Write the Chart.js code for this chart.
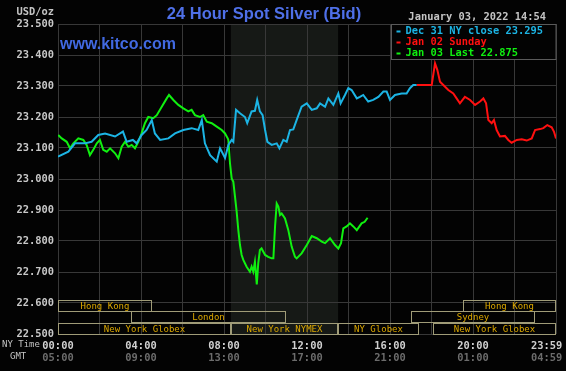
<!DOCTYPE html>
<html>
<head>
  <title>24 Hour Spot Silver</title>
  <script src="https://cdn.jsdelivr.net/npm/chart.js"></script>
  <style>
    body { margin:0; background:#000; }
    canvas { display:block; }
  </style>
</head>
<body>
<canvas id="silverChart" width="566" height="371"></canvas>

<script>
  // NY time in hours since midnight, and bid price in USD/oz
  const dec31Hours = [0.00,0.50,0.82,1.30,1.62,1.94,2.27,2.75,3.13,3.31,3.61,3.79,4.03,4.27,4.52,4.67,4.92,5.32,5.64,6.04,6.44,6.76,6.93,7.08,7.33,7.65,7.81,8.05,8.21,8.37,8.45,8.58,8.77,9.01,9.12,9.33,9.49,9.60,9.73,9.86,9.98,10.09,10.30,10.54,10.67,10.86,11.02,11.18,11.34,11.50,11.74,11.99,12.23,12.47,12.63,12.87,13.03,13.27,13.51,13.62,13.83,13.99,14.15,14.40,14.55,14.71,14.95,15.19,15.44,15.68,15.84,16.00,16.24,16.56,16.80,16.96,17.12,17.28];
  const dec31Prices = [23.072,23.088,23.115,23.115,23.120,23.142,23.147,23.137,23.153,23.120,23.126,23.115,23.142,23.158,23.190,23.147,23.126,23.131,23.147,23.158,23.164,23.158,23.190,23.115,23.077,23.056,23.099,23.068,23.110,23.126,23.120,23.223,23.212,23.200,23.180,23.218,23.220,23.255,23.218,23.206,23.158,23.120,23.110,23.115,23.099,23.126,23.120,23.158,23.160,23.190,23.233,23.244,23.223,23.228,23.244,23.233,23.260,23.239,23.276,23.244,23.271,23.293,23.287,23.260,23.265,23.271,23.250,23.255,23.265,23.282,23.282,23.255,23.271,23.276,23.276,23.293,23.303,23.303];

  const jan02Hours = [17.28,18.01,18.17,18.28,18.41,18.57,18.81,19.05,19.21,19.37,19.61,19.86,20.10,20.34,20.50,20.63,20.74,20.90,21.01,21.14,21.30,21.54,21.70,21.86,22.11,22.35,22.59,22.83,22.99,23.23,23.39,23.58,23.79,23.90,24.00];
  const jan02Prices = [23.303,23.303,23.373,23.352,23.314,23.303,23.287,23.276,23.260,23.244,23.265,23.255,23.239,23.250,23.260,23.244,23.190,23.180,23.190,23.158,23.137,23.139,23.126,23.117,23.126,23.128,23.124,23.131,23.158,23.161,23.164,23.174,23.167,23.153,23.131];

  const jan03Hours = [0.01,0.18,0.42,0.58,0.74,0.98,1.22,1.38,1.54,1.70,1.87,2.02,2.18,2.35,2.51,2.75,2.91,3.07,3.23,3.39,3.55,3.71,3.87,4.03,4.19,4.35,4.59,4.76,5.00,5.24,5.35,5.56,5.80,6.04,6.28,6.44,6.60,6.84,7.00,7.17,7.41,7.65,7.89,8.05,8.18,8.21,8.29,8.37,8.45,8.53,8.61,8.69,8.77,8.85,8.93,9.09,9.25,9.33,9.41,9.49,9.58,9.65,9.73,9.81,9.98,10.13,10.30,10.38,10.46,10.54,10.62,10.70,10.78,10.94,11.10,11.26,11.42,11.50,11.74,11.99,12.23,12.47,12.71,12.87,13.11,13.35,13.51,13.64,13.75,13.91,14.07,14.23,14.40,14.63,14.78,14.92];
  const jan03Prices = [23.142,23.131,23.120,23.099,23.115,23.131,23.126,23.110,23.077,23.094,23.115,23.126,23.094,23.088,23.099,23.083,23.067,23.104,23.120,23.104,23.110,23.099,23.120,23.147,23.180,23.200,23.196,23.206,23.233,23.260,23.271,23.255,23.239,23.228,23.218,23.223,23.206,23.200,23.206,23.185,23.180,23.169,23.158,23.147,23.131,23.126,23.050,23.002,22.991,22.943,22.895,22.835,22.787,22.755,22.739,22.717,22.701,22.717,22.701,22.733,22.660,22.728,22.771,22.776,22.755,22.749,22.744,22.744,22.847,22.921,22.911,22.884,22.889,22.873,22.835,22.782,22.749,22.744,22.760,22.787,22.816,22.809,22.798,22.793,22.809,22.787,22.776,22.793,22.841,22.847,22.857,22.847,22.835,22.857,22.862,22.875];

  const seriesLabels = ['Dec 31 NY close 23.295', 'Jan 02 Sunday', 'Jan 03 Last 22.875'];
  const nyTimeLabels = ['00:00', '04:00', '08:00', '12:00', '16:00', '20:00', '23:59'];
  const gmtLabels = ['05:00', '09:00', '13:00', '17:00', '21:00', '01:00', '04:59'];

  // trading sessions: name, start hour, end hour, row (0 = top)
  const sessionNames = ['Hong Kong', 'Hong Kong', 'London', 'Sydney', 'New York Globex', 'New York NYMEX', 'NY Globex', 'New York Globex'];
  const sessionStart = [0, 19.52, 3.52, 17.0, 0, 8.33, 13.5, 18.05];
  const sessionEnd = [4.53, 24, 11.0, 23.0, 8.33, 13.5, 17.4, 24];
  const sessionRow = [0, 0, 1, 1, 2, 2, 2, 2];
  const nymexOpen = 8.33, nymexClose = 13.5;

  const colors = ['#1cb4e4', '#ff1010', '#10f010'];
  const monoFont = "'DejaVu Sans Mono', monospace";

  function toPoints(hours, prices) {
    return hours.map((h, i) => ({ x: h, y: prices[i] }));
  }

  // background, NYMEX shading and all the extra kitco text
  const kitcoDecor = {
    id: 'kitcoDecor',
    beforeDraw(chart) {
      const ctx = chart.ctx, area = chart.chartArea, xs = chart.scales.x;
      ctx.save();
      ctx.fillStyle = '#030303';
      ctx.fillRect(0, 0, chart.width, chart.height);
      const x0 = xs.getPixelForValue(nymexOpen), x1 = xs.getPixelForValue(nymexClose);
      ctx.fillStyle = '#161916';
      ctx.fillRect(x0, area.top, x1 - x0, area.bottom - area.top);
      ctx.restore();
    },
    beforeDatasetsDraw(chart) {
      const ctx = chart.ctx, area = chart.chartArea, xs = chart.scales.x;
      const rowH = 11.5;
      ctx.save();
      ctx.font = '9px ' + monoFont;
      ctx.textAlign = 'center';
      ctx.textBaseline = 'middle';
      ctx.lineWidth = 1;
      sessionNames.forEach((name, i) => {
        const x0 = Math.round(xs.getPixelForValue(sessionStart[i])) + 0.5;
        const x1 = Math.round(xs.getPixelForValue(sessionEnd[i])) - 0.5;
        const yTop = Math.round(area.bottom - (3 - sessionRow[i]) * rowH) + 0.5;
        const yBot = Math.round(yTop + rowH) - 0.5;
        ctx.strokeStyle = '#a09c78';
        ctx.strokeRect(x0, yTop, x1 - x0, yBot - yTop);
        ctx.fillStyle = '#dca800';
        ctx.fillText(name, (x0 + x1) / 2, (yTop + yBot) / 2 + 1);
      });
      ctx.restore();
    },
    afterDraw(chart) {
      const ctx = chart.ctx, area = chart.chartArea;
      ctx.save();
      // title and site name
      ctx.textBaseline = 'middle';
      ctx.textAlign = 'center';
      ctx.fillStyle = '#4f70e8';
      ctx.font = "bold 16.5px 'Liberation Sans', Arial, sans-serif";
      ctx.fillText('24 Hour Spot Silver (Bid)', 264, 14);
      ctx.textAlign = 'left';
      ctx.fillStyle = '#4169e1';
      ctx.font = "bold 16px 'Liberation Sans', Arial, sans-serif";
      ctx.fillText('www.kitco.com', area.left + 2, 45);

      ctx.font = 'bold 10.4px ' + monoFont;
      ctx.fillStyle = '#c4c4c4';
      ctx.textAlign = 'right';
      ctx.fillText('January 03, 2022 14:54', 546, 17);
      ctx.fillText('USD/oz', area.left - 4, 12);

      ctx.font = '9px ' + monoFont;
      ctx.textAlign = 'left';
      ctx.fillText('NY Time', 2, 345);
      ctx.fillText('GMT', 10, 357);

      // legend box
      const lx = 391.5, ly = area.top + 0.5, lw = area.right - lx, lh = 35;
      ctx.fillStyle = '#030303';
      ctx.fillRect(lx, ly, lw, lh);
      ctx.strokeStyle = '#5a5a5a';
      ctx.strokeRect(lx, ly, lw, lh);
      ctx.font = 'bold 10.4px ' + monoFont;
      seriesLabels.forEach((label, i) => {
        const cy = ly + 7 + i * 11;
        ctx.fillStyle = colors[i];
        ctx.fillRect(lx + 5, cy - 1, 4, 2);
        ctx.fillText(label, lx + 14, cy);
      });
      ctx.restore();
    }
  };

  const axisFont = { family: monoFont, size: 10.4, weight: 'bold' };

  new Chart(document.getElementById('silverChart'), {
    type: 'line',
    data: {
      datasets: [
        { label: seriesLabels[0], data: toPoints(dec31Hours, dec31Prices), borderColor: colors[0] },
        { label: seriesLabels[1], data: toPoints(jan02Hours, jan02Prices), borderColor: colors[1] },
        { label: seriesLabels[2], data: toPoints(jan03Hours, jan03Prices), borderColor: colors[2] }
      ]
    },
    options: {
      responsive: false,
      animation: false,
      layout: { padding: { top: 24, right: 10, left: 0, bottom: 0 } },
      elements: {
        line: { borderWidth: 2, tension: 0 },
        point: { radius: 0 }
      },
      plugins: {
        legend: { display: false },
        tooltip: { enabled: false }
      },
      scales: {
        x: {
          type: 'linear',
          position: 'bottom',
          weight: 0,
          min: 0,
          max: 24,
          grid: { color: '#383838', drawTicks: false },
          border: { display: false },
          ticks: {
            stepSize: 2,
            padding: 6,
            maxRotation: 0,
            autoSkip: false,
            color: '#d0d0d0',
            font: axisFont,
            // last label sits left of the edge like the original, so pad it
            callback: (v) => v % 4 === 0 ? (v === 24 ? nyTimeLabels[v / 4] + '   ' : nyTimeLabels[v / 4]) : ''
          },
          afterFit(scale) { scale.height = 17; scale.paddingLeft = 0; scale.paddingRight = 0; }
        },
        x2: {
          type: 'linear',
          position: 'bottom',
          weight: 1,
          min: 0,
          max: 24,
          grid: { display: false, drawTicks: false },
          border: { display: false },
          ticks: {
            stepSize: 2,
            padding: 1,
            maxRotation: 0,
            autoSkip: false,
            color: '#6c6c6c',
            font: axisFont,
            callback: (v) => v % 4 === 0 ? (v === 24 ? gmtLabels[v / 4] + '   ' : gmtLabels[v / 4]) : ''
          },
          afterFit(scale) { scale.height = 20; scale.paddingLeft = 0; scale.paddingRight = 0; }
        },
        y: {
          min: 22.5,
          max: 23.5,
          grid: { color: '#383838', drawTicks: false },
          border: { display: false },
          ticks: {
            stepSize: 0.1,
            padding: 4,
            color: '#c8c8c8',
            font: axisFont,
            callback: (v) => v.toFixed(3)
          },
          afterFit(scale) { scale.width = 58; }
        }
      }
    },
    plugins: [kitcoDecor]
  });
</script>
</body>
</html>
